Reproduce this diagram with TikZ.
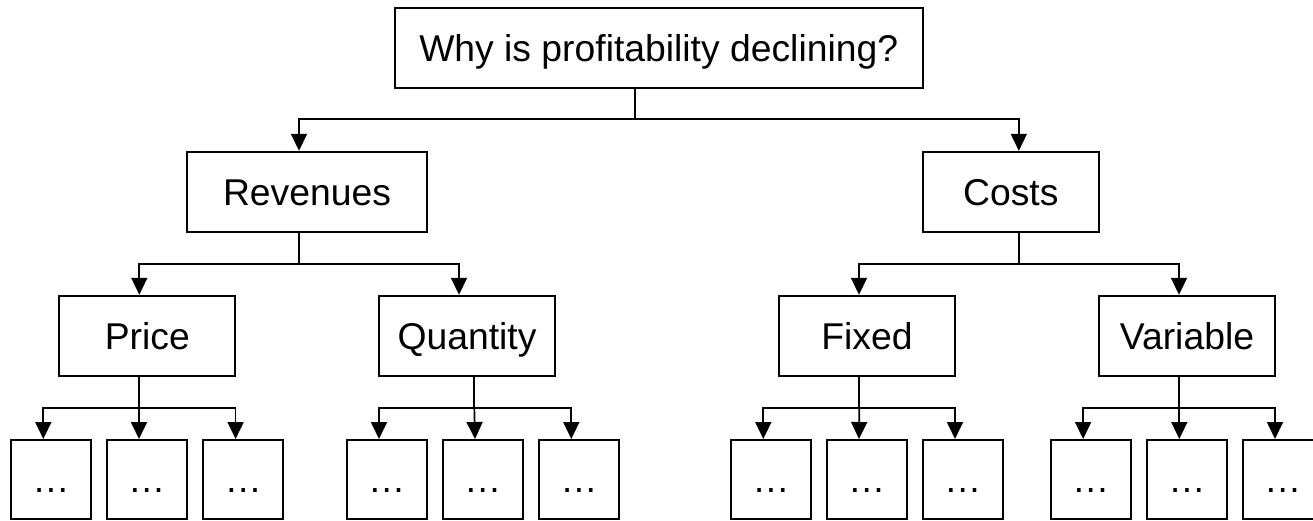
\documentclass[tikz,border=0pt]{standalone}
\usepackage{fontspec}
\setmainfont{Liberation Sans}
\usetikzlibrary{arrows.meta}

\tikzset{
	box/.style={draw, line width=1pt, inner sep=0pt, minimum height=40pt, text height=13.35pt, text depth=0pt, font=\fontsize{18.65}{22}\selectfont},
	wire/.style={line width=0.85pt},
	arr/.style={wire, -{Triangle[width=8pt,length=8.5pt]}}
}

\begin{document}
\begin{tikzpicture}[x=0.5pt, y=-0.5pt]
		%%%%% START %%%%%
		\useasboundingbox (0, 0) rectangle (1313, 520);
		
		\node[box, minimum width=264pt] (why) at (658.7, 48) {Why is profitability declining?};
		
		\node[box, minimum width=120.3pt] (rev) at (307, 191.8) {Revenues};
		\node[box, minimum width=88pt] (cost) at (1010.8, 191.8) {Costs};
		
		\node[box, minimum width=88pt] (price) at (147.3, 335.8) {Price};
		\node[box, minimum width=88pt] (qty) at (467, 335.8) {Quantity};
		\node[box, minimum width=88pt] (fixed) at (867, 335.8) {Fixed};
		\node[box, minimum width=88pt] (var) at (1187, 335.8) {Variable};
		
		\foreach \x [count=\i] in {51, 146.7, 243.3, 386.7, 482.7, 579, 771, 866.7, 962.7, 1090.8, 1187, 1282.7}
			\node[box, minimum width=40pt, minimum height=39.5pt] (d\i) at (\x, 479.5) {…};
		
		\coordinate (why-bus) at (635, 119);
		\draw[wire] (why.south -| why-bus) -- (why-bus);
		\draw[arr] (why-bus) -| ([xshift=-4pt]rev.north);
		\draw[arr] (why-bus) -| ([xshift=4pt]cost.north);
		
		\coordinate (rev-bus) at (299, 264);
		\draw[wire] (rev.south -| rev-bus) -- (rev-bus);
		\draw[arr] (rev-bus) -| ([xshift=-4pt]price.north);
		\draw[arr] (rev-bus) -| ([xshift=-4pt]qty.north);
		
		\coordinate (cost-bus) at (1019, 264);
		\draw[wire] (cost.south -| cost-bus) -- (cost-bus);
		\draw[arr] (cost-bus) -| ([xshift=-4pt]fixed.north);
		\draw[arr] (cost-bus) -| ([xshift=-4pt]var.north);
		
		\foreach \p/\bx/\a/\b/\c in {price/139/1/2/3, qty/474.3/4/5/6, fixed/859.3/7/8/9, var/1179.3/10/11/12} {
			\coordinate (\p-bus) at (\bx, 407.7);
			\draw[wire] (\p.south -| \p-bus) -- (\p-bus);
			\draw[arr] (\p-bus) -| ([xshift=-3.85pt]d\a.north);
			\draw[arr] (\p-bus) -- ([xshift=-3.85pt]d\b.north);
			\draw[arr] (\p-bus) -| ([xshift=-3.85pt]d\c.north);
		}
		
		%%%%% END %%%%%
\end{tikzpicture}
\end{document}
